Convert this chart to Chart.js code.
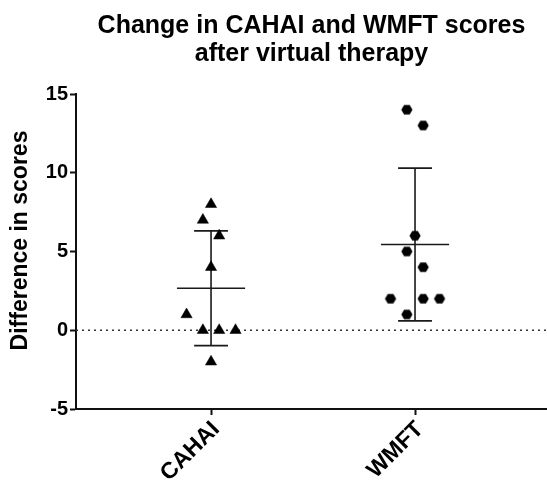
<!DOCTYPE html>
<html>
<head>
<meta charset="utf-8">
<script src="https://cdn.jsdelivr.net/npm/chart.js@4.4.0/dist/chart.umd.min.js"></script>
<style>
  body { margin: 0; background: #fff; }
  #wrap { width: 547px; height: 482px; }
</style>
</head>
<body>
<div id="wrap"><canvas id="chartCanvas" width="547" height="482"></canvas></div>
<script>
// chart data
const categories = ['CAHAI', 'WMFT'];
const cahaiScores = [8, 7, 6, 4, 1, 0, 0, 0, -2];
const wmftScores = [14, 13, 6, 5, 4, 2, 2, 2, 1];
// horizontal scatter of the points inside each column (category widths)
const cahaiJitter = [0, -0.04, 0.04, 0, -0.12, -0.04, 0.04, 0.12, 0];
const wmftJitter = [-0.04, 0.04, 0, -0.04, 0.04, -0.12, 0.04, 0.12, -0.04];
const yTicks = [-5, 0, 5, 10, 15];
const yTitle = 'Difference in scores';

const X_MIN = 0.338, X_MAX = 2.647;
const FONT = 'Arial, "Liberation Sans", sans-serif';

function mean(arr) {
  return arr.reduce((a, b) => a + b, 0) / arr.length;
}
function sd(arr) {
  let m = mean(arr);
  let s = arr.reduce((a, b) => a + (b - m) * (b - m), 0);
  return Math.sqrt(s / (arr.length - 1));
}

// mean line + SD whiskers as one line dataset with gaps
function errorBarPoints(pos, arr) {
  let m = mean(arr), s = sd(arr);
  let gap = {x: pos, y: null};
  return [
    {x: pos - 0.167, y: m}, {x: pos + 0.167, y: m}, gap,
    {x: pos - 0.083, y: m + s}, {x: pos + 0.083, y: m + s}, gap,
    {x: pos, y: m + s}, {x: pos, y: m - s}, gap,
    {x: pos - 0.083, y: m - s}, {x: pos + 0.083, y: m - s}
  ];
}

function scatterPoints(pos, arr, jitter) {
  let pts = [];
  for (let i = 0; i < arr.length; i++) {
    pts.push({x: pos + jitter[i], y: arr[i]});
  }
  return pts;
}

// hexagon marker (no built-in hexagon in Chart.js)
function makeHexagon(r) {
  let c = document.createElement('canvas');
  let w = Math.ceil(2 * r) + 2, h = Math.ceil(Math.sqrt(3) * r) + 2;
  c.width = w; c.height = h;
  let g = c.getContext('2d');
  g.beginPath();
  for (let i = 0; i < 6; i++) {
    let a = Math.PI / 3 * i;
    let px = w / 2 + r * Math.cos(a), py = h / 2 + r * Math.sin(a);
    if (i === 0) g.moveTo(px, py); else g.lineTo(px, py);
  }
  g.closePath();
  g.fillStyle = '#000';
  g.fill();
  return c;
}
const hexagon = makeHexagon(5.6);

// y axis title, drawn a bit above the middle of the axis like the original
const yTitlePlugin = {
  id: 'yTitle',
  afterDraw(chart) {
    const ctx = chart.ctx;
    const area = chart.chartArea;
    ctx.save();
    ctx.translate(21, (area.top + area.bottom) / 2 - 11);
    ctx.rotate(-Math.PI / 2);
    ctx.font = 'bold 23px ' + FONT;
    ctx.fillStyle = '#000';
    ctx.textAlign = 'center';
    ctx.textBaseline = 'middle';
    ctx.fillText(yTitle, 0, 0);
    ctx.restore();
  }
};

const lineColor = '#1a1a1a';

new Chart(document.getElementById('chartCanvas').getContext('2d'), {
  type: 'scatter',
  data: {
    datasets: [
      {
        label: categories[0],
        data: scatterPoints(1, cahaiScores, cahaiJitter),
        pointStyle: 'triangle',
        pointRadius: 6.5,
        pointBorderWidth: 0.5,
        backgroundColor: '#000',
        borderColor: '#000'
      },
      {
        label: categories[1],
        data: scatterPoints(2, wmftScores, wmftJitter),
        pointStyle: hexagon,
        backgroundColor: '#000',
        borderColor: '#000'
      },
      {
        type: 'line',
        data: errorBarPoints(1, cahaiScores),
        borderColor: lineColor,
        borderWidth: 1.6,
        pointRadius: 0,
        spanGaps: false
      },
      {
        type: 'line',
        data: errorBarPoints(2, wmftScores),
        borderColor: lineColor,
        borderWidth: 1.6,
        pointRadius: 0,
        spanGaps: false
      },
      {
        type: 'line',
        data: [{x: X_MIN, y: 0}, {x: X_MAX, y: 0}],
        borderColor: '#333',
        borderWidth: 1.5,
        borderDash: [2, 4],
        pointRadius: 0
      }
    ]
  },
  options: {
    responsive: false,
    animation: false,
    layout: {padding: 0, autoPadding: false},
    plugins: {
      legend: {display: false},
      tooltip: {enabled: false},
      title: {
        display: true,
        fullSize: false,
        text: ['Change in CAHAI and WMFT scores', 'after virtual therapy'],
        color: '#000',
        font: {family: FONT, size: 25, weight: 'bold', lineHeight: 1.12},
        padding: {top: 12, bottom: 26}
      }
    },
    scales: {
      x: {
        type: 'linear',
        min: X_MIN,
        max: X_MAX,
        afterBuildTicks: (scale) => {
          scale.ticks = categories.map((c, i) => ({value: i + 1}));
        },
        afterFit: (scale) => {
          scale.height = 73;
          scale.paddingLeft = 0;
          scale.paddingRight = 0;
        },
        grid: {drawOnChartArea: false, tickLength: 6, tickWidth: 2, tickColor: '#111'},
        border: {color: '#111', width: 2},
        ticks: {
          color: '#000',
          minRotation: 45,
          maxRotation: 45,
          padding: 1,
          labelOffset: 5,
          font: {family: FONT, size: 23, weight: 'bold'},
          callback: (v) => categories[v - 1]
        }
      },
      y: {
        min: -5,
        max: 15,
        afterBuildTicks: (scale) => {
          scale.ticks = yTicks.map(v => ({value: v}));
        },
        afterFit: (scale) => { scale.width = 76; },
        grid: {drawOnChartArea: false, tickLength: 6, tickWidth: 2, tickColor: '#111'},
        border: {color: '#111', width: 2},
        ticks: {
          color: '#000',
          padding: 2,
          font: {family: FONT, size: 20, weight: 'bold'}
        }
      }
    }
  },
  plugins: [yTitlePlugin]
});
</script>
</body>
</html>
